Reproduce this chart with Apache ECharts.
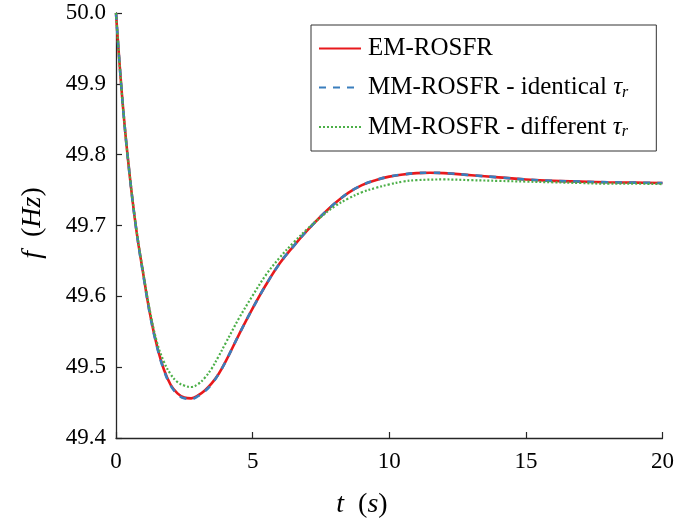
<!DOCTYPE html>
<html>
<head>
<meta charset="utf-8">
<script src="https://cdn.jsdelivr.net/npm/echarts@6/dist/echarts.min.js"></script>
<style>
html,body{margin:0;padding:0;background:#fff;}
#chart{width:677px;height:519px;}
</style>
</head>
<body>
<div id="chart"></div>
<script>
// Time (s) and frequency (Hz) values
const timeRed = [0, 0.25, 0.5, 0.75, 1.0, 1.25, 1.5, 1.75, 2.0, 2.25, 2.5, 2.75, 3.0, 3.25, 3.5, 3.75, 4.0, 4.5, 5.0, 5.5, 6.0, 6.5, 7.0, 7.5, 8.0, 8.5, 9.0, 9.5, 10.0, 10.5, 11.0, 11.5, 12.0, 13.0, 14.0, 15.0, 16.0, 17.0, 18.0, 19.0, 20.0];
const freqRed = [50.0, 49.87, 49.771, 49.692, 49.631, 49.574, 49.53, 49.497, 49.475, 49.463, 49.457, 49.456, 49.46, 49.467, 49.477, 49.49, 49.507, 49.546, 49.583, 49.617, 49.647, 49.671, 49.693, 49.713, 49.731, 49.746, 49.757, 49.764, 49.769, 49.772, 49.774, 49.7745, 49.774, 49.771, 49.768, 49.765, 49.763, 49.762, 49.761, 49.7605, 49.76];

const timeBlue = [0, 0.25, 0.5, 0.75, 1.0, 1.25, 1.5, 1.75, 2.0, 2.25, 2.5, 2.75, 3.0, 3.25, 3.5, 3.75, 4.0, 4.5, 5.0, 5.5, 6.0, 6.5, 7.0, 7.5, 8.0, 8.5, 9.0, 9.5, 10.0, 10.5, 11.0, 11.5, 12.0, 13.0, 14.0, 15.0, 16.0, 17.0, 18.0, 19.0, 20.0];
const freqBlue = [50.0, 49.87, 49.771, 49.692, 49.63, 49.573, 49.529, 49.496, 49.474, 49.462, 49.456, 49.455, 49.459, 49.466, 49.476, 49.49, 49.507, 49.546, 49.583, 49.617, 49.647, 49.671, 49.693, 49.713, 49.731, 49.746, 49.757, 49.764, 49.769, 49.772, 49.774, 49.7745, 49.774, 49.771, 49.768, 49.765, 49.763, 49.762, 49.761, 49.7605, 49.76];

const timeGreen = [0, 0.25, 0.5, 0.75, 1.0, 1.25, 1.5, 1.75, 2.0, 2.25, 2.5, 2.75, 3.0, 3.25, 3.5, 3.75, 4.0, 4.5, 5.0, 5.5, 6.0, 6.5, 7.0, 7.5, 8.0, 8.5, 9.0, 9.5, 10.0, 10.5, 11.0, 12.0, 13.0, 14.0, 15.0, 16.0, 17.0, 18.0, 19.0, 20.0];
const freqGreen = [50.0, 49.87, 49.772, 49.694, 49.633, 49.578, 49.535, 49.508, 49.49, 49.479, 49.474, 49.472, 49.476, 49.485, 49.498, 49.515, 49.533, 49.569, 49.601, 49.631, 49.655, 49.676, 49.695, 49.712, 49.727, 49.738, 49.747, 49.753, 49.758, 49.762, 49.764, 49.765, 49.764, 49.763, 49.762, 49.761, 49.76, 49.759, 49.759, 49.7585];

const seriesNames = ['EM-ROSFR', 'MM-ROSFR - identical τr', 'MM-ROSFR - different τr'];
const xTicks = [0, 5, 10, 15, 20];
const yTicks = [49.4, 49.5, 49.6, 49.7, 49.8, 49.9, 50.0];

function pairs(t, f) { return t.map((v, i) => [v, f[i]]); }

const FONT = 'Liberation Serif';
const chart = echarts.init(document.getElementById('chart'));
chart.setOption({
  animation: false,
  backgroundColor: '#fff',
  grid: { left: 116, right: 12, top: 13, bottom: 81 },
  xAxis: {
    type: 'value', min: xTicks[0], max: xTicks[xTicks.length - 1], interval: 5,
    axisLine: { lineStyle: { color: '#262626', width: 1.3 } },
    axisTick: { inside: true, length: 6, lineStyle: { color: '#262626', width: 1.2 } },
    axisLabel: { fontFamily: FONT, fontSize: 23, color: '#000', margin: 12 },
    splitLine: { show: false }
  },
  yAxis: {
    type: 'value', min: yTicks[0], max: yTicks[yTicks.length - 1], interval: 0.1,
    axisLine: { show: true, lineStyle: { color: '#262626', width: 1.3 } },
    axisTick: { show: true, inside: true, length: 6, lineStyle: { color: '#262626', width: 1.2 } },
    axisLabel: { fontFamily: FONT, fontSize: 23, color: '#000', margin: 10, formatter: v => v.toFixed(1) },
    splitLine: { show: false }
  },
  legend: {
    orient: 'vertical', left: 311, top: 25,
    padding: [11, 28, 11, 7], itemGap: 14, itemWidth: 42, itemHeight: 14,
    borderColor: '#333', borderWidth: 1, backgroundColor: '#fff',
    itemStyle: { opacity: 0 },
    data: seriesNames,
    formatter: function (name) {
      if (name.endsWith('τr')) return name.slice(0, -2) + '{i|τ}{s|r}';
      return name;
    },
    textStyle: {
      fontFamily: FONT, fontSize: 25, color: '#000', padding: [0, 0, 0, 2],
      rich: {
        i: { fontFamily: FONT, fontStyle: 'italic', fontSize: 25, color: '#000' },
        s: { fontFamily: FONT, fontStyle: 'italic', fontSize: 16, color: '#000', verticalAlign: 'bottom', padding: [10, 0, 0, 0] }
      }
    }
  },
  series: [
    { name: seriesNames[0], type: 'line', data: pairs(timeRed, freqRed), smooth: 0.4, symbol: 'none',
      lineStyle: { color: '#e8191c', width: 2.6, type: 'solid' }, itemStyle: { color: '#e8191c' } },
    { name: seriesNames[1], type: 'line', data: pairs(timeBlue, freqBlue), smooth: 0.4, symbol: 'none',
      lineStyle: { color: '#3a7ebd', width: 2.6, type: [7, 7] }, itemStyle: { color: '#3a7ebd' } },
    { name: seriesNames[2], type: 'line', data: pairs(timeGreen, freqGreen), smooth: 0.4, symbol: 'none',
      lineStyle: { color: '#4caf48', width: 2.2, type: [2, 2] }, itemStyle: { color: '#4caf48' } }
  ],
  graphic: [
    { type: 'text', x: 362, y: 505,
      style: { text: '{i|t}  ({i|s})', font: '28px "Liberation Serif"', fill: '#000', align: 'center', verticalAlign: 'middle',
        rich: { i: { fontFamily: FONT, fontStyle: 'italic', fontSize: 28, fill: '#000' } } } },
    { type: 'text', x: 33, y: 223, rotation: Math.PI / 2,
      style: { text: '{i|f}  ({i|Hz})', font: '28px "Liberation Serif"', fill: '#000', align: 'center', verticalAlign: 'middle',
        rich: { i: { fontFamily: FONT, fontStyle: 'italic', fontSize: 28, fill: '#000' } } } }
  ]
});
</script>
</body>
</html>
